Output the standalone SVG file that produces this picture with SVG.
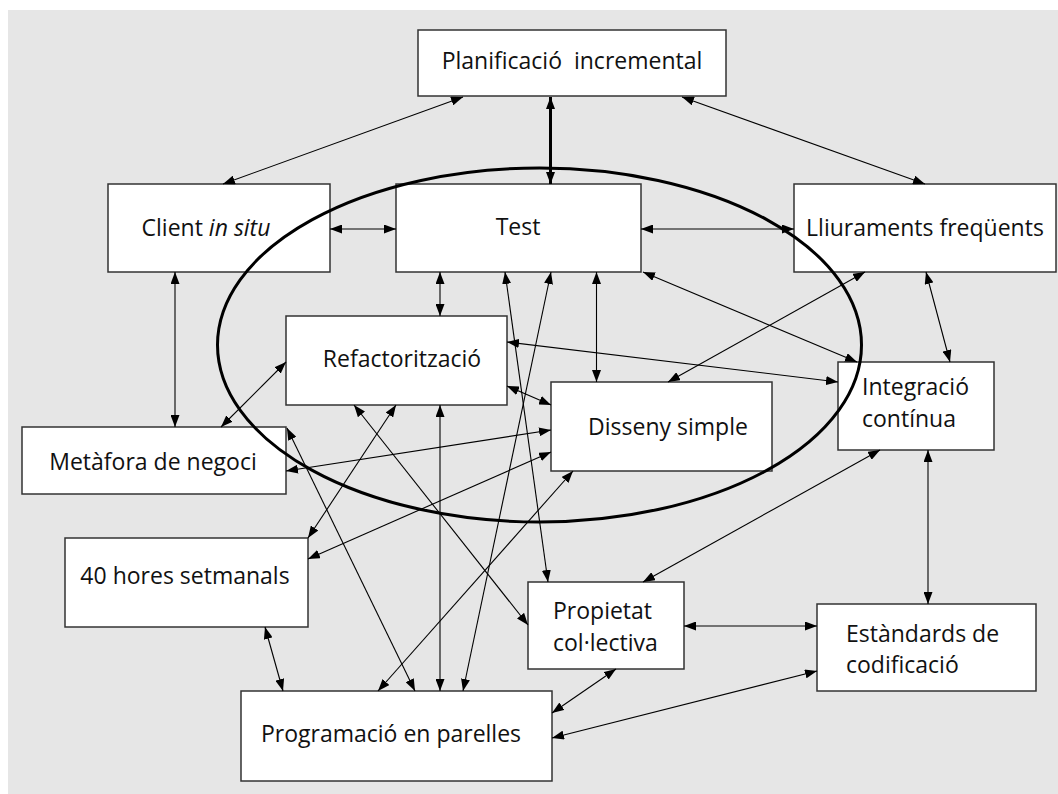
<svg xmlns="http://www.w3.org/2000/svg" width="1058" height="794" viewBox="0 0 1058 794">
<defs>
<marker id="ah" viewBox="0 0 12 9" refX="12" refY="4.5" markerWidth="12" markerHeight="9" markerUnits="userSpaceOnUse" orient="auto-start-reverse">
<path d="M0,0 L12,4.5 L0,9 z" fill="#000"/>
</marker>
</defs>
<style>
.box{fill:#fff;stroke:#333;stroke-width:1.5}
.lbl{font-family:"Open Sans","DejaVu Sans",sans-serif;font-size:23px;fill:#111}
.c{text-anchor:middle}
.cn line{stroke:#000;stroke-width:1.1;marker-start:url(#ah);marker-end:url(#ah)}
</style>
<rect x="8" y="10" width="1050" height="784" fill="#e6e6e6"/>

<g id="n-planificacio"><rect class="box" x="418" y="30" width="308" height="66"/><text class="lbl c" x="572" y="69" xml:space="preserve" style="white-space:pre">Planificació  incremental</text></g>
<g id="n-client"><rect class="box" x="108" y="184" width="222" height="88"/><text class="lbl c" x="206" y="236">Client <tspan font-style="italic">in situ</tspan></text></g>
<g id="n-test"><rect class="box" x="396" y="184" width="245" height="88"/><text class="lbl c" x="518" y="235">Test</text></g>
<g id="n-lliuraments"><rect class="box" x="794" y="184" width="262" height="88"/><text class="lbl c" x="925" y="236">Lliuraments freqüents</text></g>
<g id="n-refactoritzacio"><rect class="box" x="286" y="316" width="221" height="89"/><text class="lbl c" x="402" y="367">Refactorització</text></g>
<g id="n-disseny"><rect class="box" x="551" y="382" width="221" height="89"/><text class="lbl c" x="668" y="435">Disseny simple</text></g>
<g id="n-integracio"><rect class="box" x="838" y="362" width="156" height="88"/><text class="lbl" x="862" y="395">Integració</text><text class="lbl" x="862" y="427">contínua</text></g>
<g id="n-metafora"><rect class="box" x="22" y="427" width="264" height="67"/><text class="lbl c" x="153" y="470">Metàfora de negoci</text></g>
<g id="n-40hores"><rect class="box" x="65" y="538" width="243" height="89"/><text class="lbl c" x="185" y="584">40 hores setmanals</text></g>
<g id="n-propietat"><rect class="box" x="528" y="582" width="156" height="87"/><text class="lbl" x="553" y="619">Propietat</text><text class="lbl" x="553" y="651">col·lectiva</text></g>
<g id="n-estandards"><rect class="box" x="817" y="604" width="219" height="87"/><text class="lbl" x="846" y="642">Estàndards de</text><text class="lbl" x="846" y="673">codificació</text></g>
<g id="n-programacio"><rect class="box" x="241" y="691" width="311" height="90"/><text class="lbl c" x="391" y="742">Programació en parelles</text></g>

<g id="ellipse">
<ellipse cx="539.5" cy="345" rx="322" ry="177" fill="none" stroke="#000" stroke-width="3"/>
</g>

<g id="connectors" class="cn">
<line x1="463" y1="97" x2="223" y2="184"/>
<line x1="550.5" y1="97" x2="550.5" y2="184" style="stroke-width:3"/>
<line x1="682" y1="97" x2="925" y2="184"/>
<line x1="330" y1="229" x2="396" y2="229"/>
<line x1="641" y1="229" x2="794" y2="229"/>
<line x1="175" y1="272" x2="175" y2="427"/>
<line x1="440" y1="272" x2="440" y2="316"/>
<line x1="596.5" y1="272" x2="596.5" y2="382"/>
<line x1="505" y1="272" x2="548" y2="582"/>
<line x1="551" y1="272" x2="463" y2="691"/>
<line x1="643" y1="272" x2="857" y2="362"/>
<line x1="865" y1="272" x2="668" y2="382"/>
<line x1="926" y1="272" x2="950" y2="362"/>
<line x1="507" y1="342" x2="838" y2="382"/>
<line x1="507" y1="386" x2="551" y2="405"/>
<line x1="286" y1="362" x2="221" y2="427"/>
<line x1="354" y1="405" x2="528" y2="625"/>
<line x1="396" y1="405" x2="308" y2="538"/>
<line x1="440" y1="405" x2="440" y2="691"/>
<line x1="287" y1="428" x2="415" y2="691"/>
<line x1="286" y1="471" x2="551" y2="430"/>
<line x1="308" y1="559" x2="551" y2="452"/>
<line x1="265" y1="627" x2="283" y2="691"/>
<line x1="573" y1="471" x2="378" y2="691"/>
<line x1="880" y1="450" x2="643" y2="582"/>
<line x1="928" y1="450" x2="928" y2="604"/>
<line x1="684" y1="626" x2="817" y2="626"/>
<line x1="616" y1="669" x2="552" y2="713"/>
<line x1="817" y1="671" x2="552" y2="738"/>
</g>
</svg>
